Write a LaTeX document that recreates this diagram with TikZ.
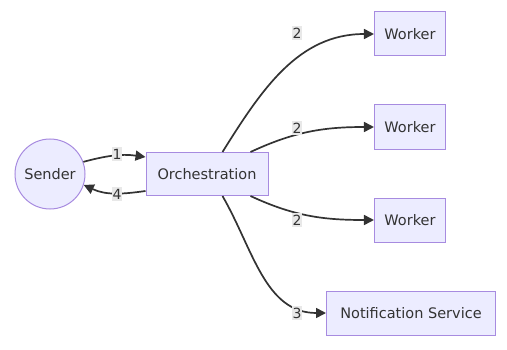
\documentclass[tikz,border=0pt]{standalone}
\usepackage{fontspec}
\setmainfont{DejaVu Sans}
\usetikzlibrary{arrows.meta}
\definecolor{boxfill}{HTML}{ECECFF}
\definecolor{boxline}{HTML}{A78BE0}
\definecolor{edge}{HTML}{333333}
\definecolor{tagfill}{HTML}{E8E8E8}

\begin{document}
\begin{tikzpicture}[x=1pt,y=1pt,
    box/.style={draw=boxline,fill=boxfill,line width=1pt,minimum height=44pt,inner xsep=10pt,font=\fontsize{14.5}{17}\selectfont,text=edge},
    link/.style={draw=edge,line width=1.7pt,-{Triangle[length=10pt,width=10pt]}},
    tag/.style={fill=tagfill,inner xsep=1pt,inner ysep=2pt,font=\fontsize{14}{16}\selectfont,text=edge}]
  \useasboundingbox (0,0) rectangle (507,349);
  \node[box,circle,minimum size=70pt,inner sep=0pt] (sender) at (50,175) {Sender};
  \node[box,minimum width=122pt,minimum height=43pt] (orch) at (207,175) {Orchestration};
  \node[box,minimum width=70pt] (worka) at (410,315) {Worker};
  \node[box,minimum width=70pt] (workb) at (410,222) {Worker};
  \node[box,minimum width=70pt] (workc) at (410,129) {Worker};
  \node[box,minimum width=169pt] (notify) at (411,36) {Notification Service};
  % sender and orchestration
  \draw[link] (sender.20) to[out=15,in=172] ([yshift=-5pt]orch.north west);
  \draw[link] ([yshift=5pt]orch.south west) to[out=188,in=-25] (sender.-18);
  % fan out
  \draw[link] ([xshift=-46pt]orch.north east) to[out=58,in=180] (worka.west);
  \draw[link] ([xshift=-18pt]orch.north east) to[out=25,in=180] (workb.west);
  \draw[link] ([xshift=-18pt]orch.south east) to[out=-25,in=180] (workc.west);
  \draw[link] ([xshift=-46pt]orch.south east) to[out=-60,in=180] (notify.west);
  % edge labels
  \node[tag] (t1) at (117,195) {1};
  \node[tag] (t4) at (117,155) {4};
  \node[tag] (t2a) at (297,316) {2};
  \node[tag] (t2b) at (297,221) {2};
  \node[tag] (t2c) at (297,129) {2};
  \node[tag] (t3) at (297,36) {3};
\end{tikzpicture}
\end{document}
